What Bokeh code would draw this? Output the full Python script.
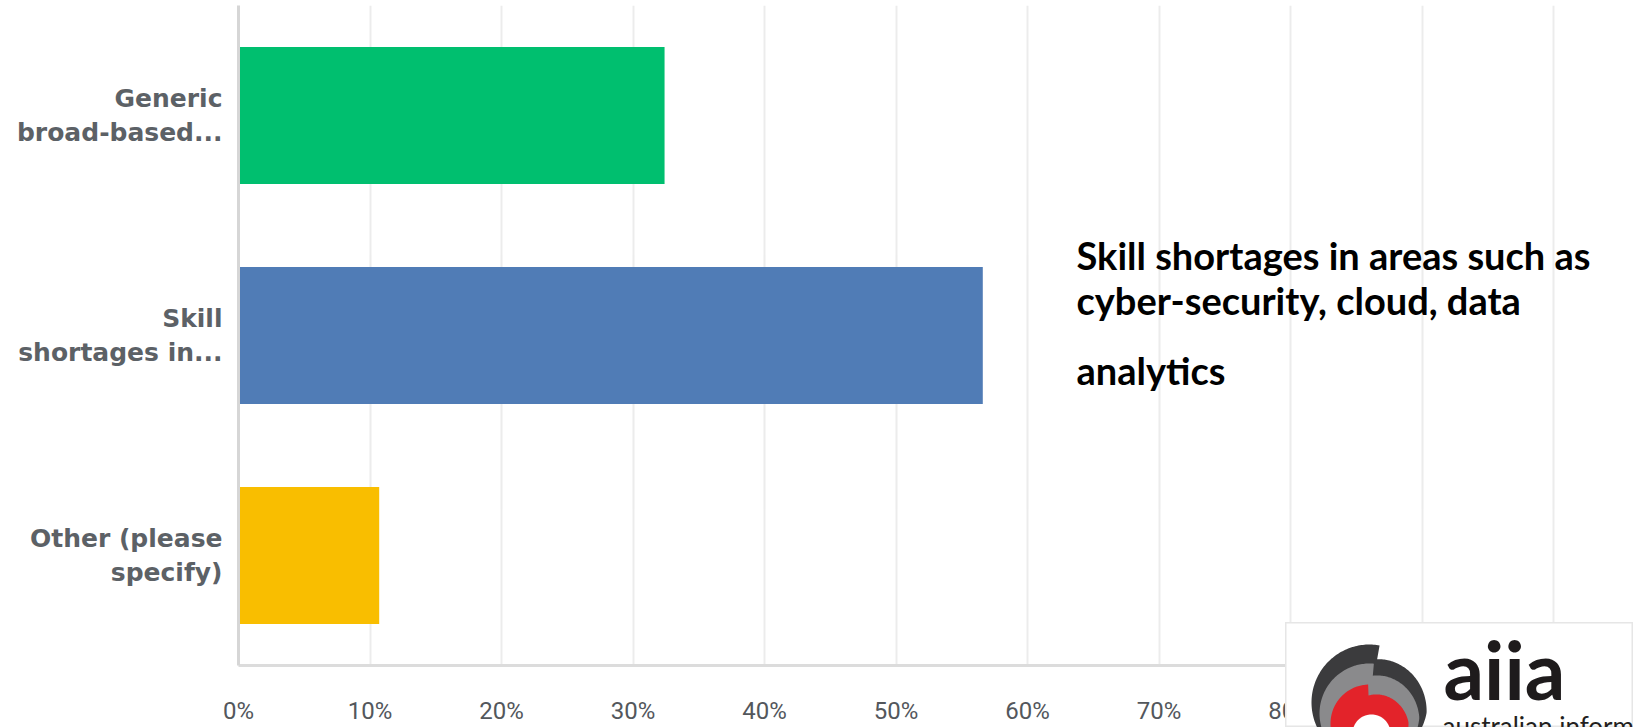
import numpy as np
from bokeh.plotting import figure
from bokeh.models import (FactorRange, Range1d, FixedTicker, NumeralTickFormatter, Label)
from bokeh.embed import file_html
from bokeh.resources import INLINE

# ---------------- data ----------------
categories = ["Generic\nbroad-based...", "Skill\nshortages in...", "Other (please\nspecify)"]
values = [0.324, 0.566, 0.107]
colors = ["#00BF6F", "#507CB6", "#F9BE00"]
x_ticks = [0.0, 0.1, 0.2, 0.3, 0.4, 0.5, 0.6, 0.7, 0.8, 0.9, 1.0]
note_lines = ["Skill shortages in areas such as", "cyber-security, cloud, data", "analytics"]
logo_word = "aiia"
logo_sub = "australian information industry association"

# ---------------- layout (page px; canvas sits at 0,0) ----------------
W, H = 1633, 727
FL, FT, FB, FR = 238, 5, 667, 1633
PX100 = 1553                       # page x of 100 %
x_end = (FR - FL) / (PX100 - FL)

p = figure(width=W, height=H, output_backend="svg", toolbar_location=None,
           y_range=FactorRange(factors=categories[::-1], factor_padding=0, range_padding=0),
           x_range=Range1d(0, x_end),
           min_border_left=FL, min_border_right=W - FR, min_border_top=FT,
           min_border_bottom=H - FB, outline_line_color=None,
           background_fill_color="white", border_fill_color="white")

p.hbar(y=categories, right=values, left=0, height=0.622, color=colors, line_color=None)

# grid
p.ygrid.grid_line_color = None
p.xgrid.ticker = FixedTicker(ticks=x_ticks)
p.xgrid.grid_line_color = "#ececec"
p.xgrid.grid_line_width = 2

# x axis
xa = p.xaxis[0]
xa.ticker = FixedTicker(ticks=x_ticks)
xa.formatter = NumeralTickFormatter(format="0%")
xa.axis_line_color = "#dcdcdc"
xa.axis_line_width = 3
xa.major_tick_line_color = None
xa.major_tick_out = 0
xa.major_tick_in = 0
xa.minor_tick_line_color = None
xa.major_label_standoff = 31
xa.major_label_text_font = "Roboto"
xa.major_label_text_font_size = "24px"
xa.major_label_text_color = "#53575c"

# y axis
ya = p.yaxis[0]
ya.axis_line_color = "#d6d6d6"
ya.axis_line_width = 3
ya.major_tick_line_color = None
ya.major_tick_out = 0
ya.major_tick_in = 0
ya.minor_tick_line_color = None
ya.major_label_standoff = 16
ya.major_label_text_font = "DejaVu Sans"
ya.major_label_text_font_style = "bold"
ya.major_label_text_font_size = "25px"
ya.major_label_text_color = "#5c6166"
ya.major_label_text_line_height = 1.17

# annotation text (screen units are relative to the frame, y measured upwards)
for line, py in zip(note_lines, [256, 301, 371]):
    p.add_layout(Label(x=1076 - FL, y=FB - py, x_units="screen", y_units="screen",
                       text=line, text_font="Lato", text_font_style="bold",
                       text_font_size="38px", text_color="#000000",
                       text_baseline="middle", text_align="left"))

# ---------------- logo (separate small figure laid over the lower right) ----------------
LX0, LY0, LX1, LY1 = 1285, 622, 1633, 727
logo = figure(width=LX1 - LX0, height=LY1 - LY0, output_backend="svg", toolbar_location=None,
              x_range=Range1d(LX0, LX1), y_range=Range1d(LY1, LY0),
              min_border=0, outline_line_color="#e6e6e6", outline_line_width=2,
              background_fill_color="white", border_fill_color="white",
              styles={"position": "absolute", "left": f"{LX0}px", "top": f"{LY0}px",
                      "z-index": "10"})
logo.axis.visible = False
logo.grid.visible = False


def spiral(cx, cy, r0, r1, th0_deg, n=240, frac=0.75):
    t = np.linspace(0, 1, n)
    th = np.radians(th0_deg) + 2 * np.pi * t
    r = np.where(t < frac, r0, r0 + (r1 - r0) * (t - frac) / (1 - frac))
    return list(cx + r * np.cos(th)), list(cy - r * np.sin(th))


for (cx, cy, r0, r1, th0, col) in [(1369, 702, 58, 44, 80, "#3b3b3d"),
                                   (1369, 713, 50, 38, 85, "#8a8a8c"),
                                   (1369, 723, 39, 28, 92, "#e3232a"),
                                   (1371, 733, 19, 19, 90, "#ffffff")]:
    xs, ys = spiral(cx, cy, r0, r1, th0)
    logo.patch(xs, ys, fill_color=col, line_color=None)

# logo texts (screen units relative to the logo frame, y upwards from its bottom)
logo.add_layout(Label(x=1443 - LX0, y=LY1 - 668, x_units="screen", y_units="screen",
                      text=logo_word, text_font="Lato", text_font_style="bold",
                      text_font_size="80px", text_color="#1e1b1c",
                      text_baseline="middle", text_align="left"))
logo.add_layout(Label(x=1442 - LX0, y=LY1 - 725, x_units="screen", y_units="screen",
                      text=logo_sub, text_font="Lato", text_font_size="26px",
                      text_color="#231f20", text_baseline="middle", text_align="left"))

open("out.html", "w").write(file_html([p, logo], INLINE))
